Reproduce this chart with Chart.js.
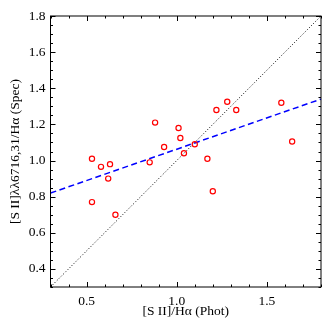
<!DOCTYPE html>
<html>
<head>
<meta charset="utf-8">
<script src="https://cdn.jsdelivr.net/npm/chart.js@4/dist/chart.umd.min.js"></script>
<style>
html,body{margin:0;padding:0;background:#fff;}
#wrap{width:334px;height:334px;position:relative;}
</style>
</head>
<body>
<div id="wrap"><canvas id="c" width="334" height="334"></canvas></div>
<script>
// Data
const photX = [0.53, 0.53, 0.58, 0.63, 0.62, 0.66, 0.85, 0.88, 0.93, 1.01, 1.02, 1.04, 1.10, 1.17, 1.20, 1.22, 1.28, 1.33, 1.58, 1.64];
const specY = [1.01, 0.77, 0.965, 0.98, 0.90, 0.70, 0.99, 1.21, 1.075, 1.18, 1.125, 1.04, 1.09, 1.01, 0.83, 1.28, 1.325, 1.28, 1.32, 1.105];
const fitX = [0.3, 1.8];
const fitY = [0.82, 1.34];
const oneX = [0.3, 1.8];
const oneY = [0.3, 1.8];
const xTicks = [0.5, 1.0, 1.5];
const yTicks = [0.4, 0.6, 0.8, 1.0, 1.2, 1.4, 1.6, 1.8];
const xMinorStep = 0.1;
const yMinorStep = 0.05;
const xRange = [0.3, 1.8];
const yRange = [0.3, 1.8];

const toPts = (xs, ys) => xs.map((x, i) => ({x: x, y: ys[i]}));
const serif = "'Liberation Serif', 'DejaVu Serif', serif";

const boxTicks = {
  id: 'boxTicks',
  afterDatasetsDraw(chart) {
    const {ctx, chartArea: a, scales: {x, y}} = chart;
    ctx.save();
    ctx.strokeStyle = '#000';
    ctx.lineWidth = 1;
    ctx.strokeRect(a.left, a.top, a.right - a.left, a.bottom - a.top);
    ctx.beginPath();
    const n = Math.round((xRange[1] - xRange[0]) / xMinorStep);
    for (let i = 0; i <= n; i++) {
      const v = xRange[0] + i * xMinorStep;
      const major = Math.abs(v / 0.5 - Math.round(v / 0.5)) < 1e-6;
      const len = major ? 5 : 2.5;
      const px = Math.round(x.getPixelForValue(v)) + 0.5;
      ctx.moveTo(px, a.bottom); ctx.lineTo(px, a.bottom - len);
      ctx.moveTo(px, a.top); ctx.lineTo(px, a.top + len);
    }
    const m = Math.round((yRange[1] - yRange[0]) / yMinorStep);
    for (let i = 0; i <= m; i++) {
      const v = yRange[0] + i * yMinorStep;
      const major = Math.abs(v / 0.2 - Math.round(v / 0.2)) < 1e-6;
      const len = major ? 5 : 2.5;
      const py = Math.round(y.getPixelForValue(v)) + 0.5;
      ctx.moveTo(a.left, py); ctx.lineTo(a.left + len, py);
      ctx.moveTo(a.right, py); ctx.lineTo(a.right - len, py);
    }
    ctx.stroke();
    ctx.restore();
  }
};

new Chart(document.getElementById('c'), {
  type: 'scatter',
  data: {
    datasets: [
      {
        data: toPts(oneX, oneY), showLine: true, borderColor: '#000', borderWidth: 1,
        borderDash: [1, 2], pointRadius: 0, fill: false, order: 3
      },
      {
        data: toPts(fitX, fitY), showLine: true, borderColor: '#0000ff', borderWidth: 1.5,
        borderDash: [6, 3.5], pointRadius: 0, fill: false, order: 2
      },
      {
        data: toPts(photX, specY), showLine: false, pointStyle: 'circle', pointRadius: 2.6,
        pointBorderColor: '#ff0000', pointBackgroundColor: 'rgba(0,0,0,0)', pointBorderWidth: 1.2, order: 1
      }
    ]
  },
  options: {
    responsive: false,
    animation: false,
    devicePixelRatio: 1,
    layout: {padding: {top: 16, right: 13, left: 0, bottom: 0}},
    plugins: {legend: {display: false}, tooltip: {enabled: false}},
    scales: {
      x: {
        type: 'linear', min: xRange[0], max: xRange[1],
        afterBuildTicks: s => { s.ticks = xTicks.map(v => ({value: v})); },
        afterFit: s => { s.height = 47; },
        grid: {display: false, drawTicks: false},
        border: {display: false},
        ticks: {
          color: '#000', padding: 6, maxRotation: 0, autoSkip: false,
          font: {family: serif, size: 13.5},
          callback: v => Number(v).toFixed(1)
        },
        title: {
          display: true, text: '[S II]/Hα (Phot)', color: '#000',
          font: {family: serif, size: 13.5}, padding: {top: 0, bottom: 14}
        }
      },
      y: {
        type: 'linear', min: yRange[0], max: yRange[1],
        afterBuildTicks: s => { s.ticks = yTicks.map(v => ({value: v})); },
        afterFit: s => { s.width = 50.5; },
        grid: {display: false, drawTicks: false},
        border: {display: false},
        ticks: {
          color: '#000', padding: 5, autoSkip: false,
          font: {family: serif, size: 13.5},
          callback: v => Number(v).toFixed(1)
        },
        title: {
          display: true, text: '[S II]λλ6716,31/Hα (Spec)', color: '#000',
          font: {family: serif, size: 13.5}, padding: {top: 7, bottom: 0}
        }
      }
    }
  },
  plugins: [boxTicks]
});
</script>
</body>
</html>
